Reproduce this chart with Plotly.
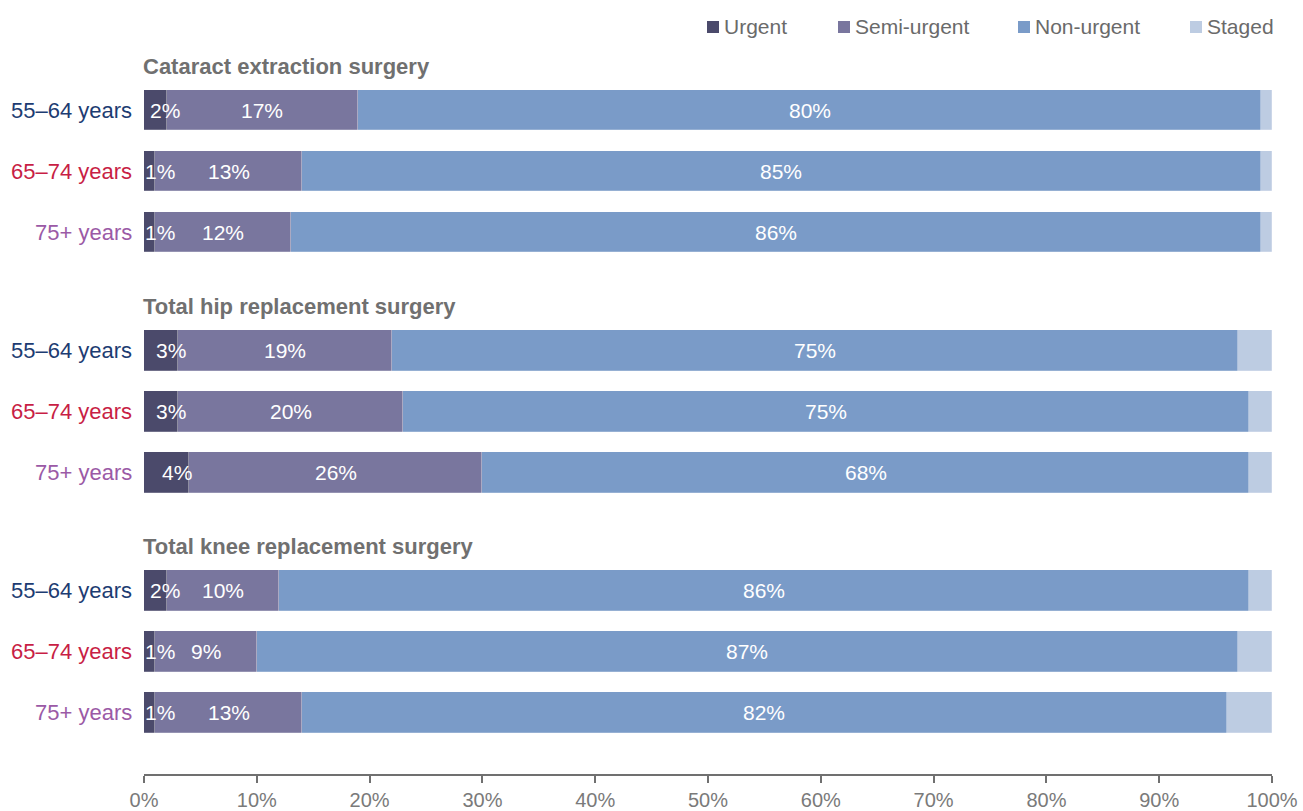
import plotly.graph_objects as go

# Surgery groups and age bands
groups = ["Cataract extraction surgery", "Total hip replacement surgery",
          "Total knee replacement surgery"]
ages = ["55–64 years", "65–74 years", "75+ years"]
age_colors = ["#1d3c72", "#c81e45", "#9b5aa6"]

# Urgency categories (percent of patients), ordered group by group, age by age
series_names = ["Urgent", "Semi-urgent", "Non-urgent", "Staged"]
series_colors = ["#4b4a6b", "#79769e", "#7a9bc8", "#bdcce2"]
urgent = [2, 1, 1, 3, 3, 4, 2, 1, 1]
semi_urgent = [17, 13, 12, 19, 20, 26, 10, 9, 13]
non_urgent = [80, 85, 86, 75, 75, 68, 86, 87, 82]
staged = [1, 1, 1, 3, 2, 2, 2, 3, 4]
x_ticks = [0, 10, 20, 30, 40, 50, 60, 70, 80, 90, 100]

FONT = "Liberation Sans, Arial, Helvetica, sans-serif"
GROUP_STEP = 3.94
BAR_WIDTH = 0.67

# vertical slot of each bar
y_pos = [g * GROUP_STEP + r for g in range(len(groups)) for r in range(len(ages))]

values = [urgent, semi_urgent, non_urgent, staged]

fig = go.Figure()
for name, color, vals in zip(series_names, series_colors, values):
    fig.add_trace(go.Bar(
        y=y_pos, x=vals, orientation="h", name=name,
        marker=dict(color=color, line=dict(width=0.6, color="rgba(255,255,255,0.35)")),
        width=BAR_WIDTH, showlegend=False, hoverinfo="x+name",
    ))

annotations = []
# value labels inside the first three segments
for i, y in enumerate(y_pos):
    start = 0
    for k, vals in enumerate(values[:3]):
        v = vals[i]
        annotations.append(dict(
            x=start + v / 2, y=y, xref="x", yref="y", text=f"{v}%",
            showarrow=False, xshift=10 if k == 0 else 0,
            font=dict(family=FONT, size=21, color="white"),
        ))
        start += v

# age band labels
for i, y in enumerate(y_pos):
    r = i % len(ages)
    annotations.append(dict(
        x=0, y=y, xref="paper", yref="y", text=ages[r], showarrow=False,
        xanchor="right", xshift=-10,
        font=dict(family=FONT, size=22, color=age_colors[r]),
    ))

# group headings
for g, title in enumerate(groups):
    annotations.append(dict(
        x=0, y=g * GROUP_STEP - 0.72, xref="x", yref="y", text=f"<b>{title}</b>",
        showarrow=False, xanchor="left", xshift=-3,
        font=dict(family=FONT, size=22, color="#707070"),
    ))

# legend drawn as swatches + labels along the top
PLOT_L, PLOT_W, PLOT_B, PLOT_H = 144, 1128, 774, 734


def px_x(px):
    return (px - PLOT_L) / PLOT_W


def px_y(py):
    return (PLOT_B - py) / PLOT_H


shapes = []
legend_x = [707, 838, 1018, 1190]
for name, color, lx in zip(series_names, series_colors, legend_x):
    shapes.append(dict(
        type="rect", xref="paper", yref="paper",
        x0=px_x(lx), x1=px_x(lx + 12), y0=px_y(33), y1=px_y(21),
        fillcolor=color, line=dict(width=0),
    ))
    annotations.append(dict(
        x=px_x(lx + 15), y=px_y(27), xref="paper", yref="paper", text=name,
        showarrow=False, xanchor="left", yanchor="middle",
        font=dict(family=FONT, size=21, color="#6a6a6a"),
    ))

fig.update_layout(
    width=1303, height=811,
    margin=dict(l=PLOT_L, r=31, t=40, b=37, autoexpand=False),
    plot_bgcolor="white", paper_bgcolor="white",
    barmode="stack", bargap=0,
    annotations=annotations, shapes=shapes,
    xaxis=dict(
        range=[0, 100], tickvals=x_ticks, ticktext=[f"{v}%" for v in x_ticks],
        ticks="outside", ticklen=7, tickwidth=1.5, tickcolor="#707070",
        showline=True, linecolor="#707070", linewidth=2,
        showgrid=False, zeroline=False, ticklabelstandoff=0, automargin=False,
        tickfont=dict(family=FONT, size=20, color="#7a7a7a"),
    ),
    yaxis=dict(range=[10.885, -1.1475], visible=False, automargin=False),
)

fig.write_html("out.html")
